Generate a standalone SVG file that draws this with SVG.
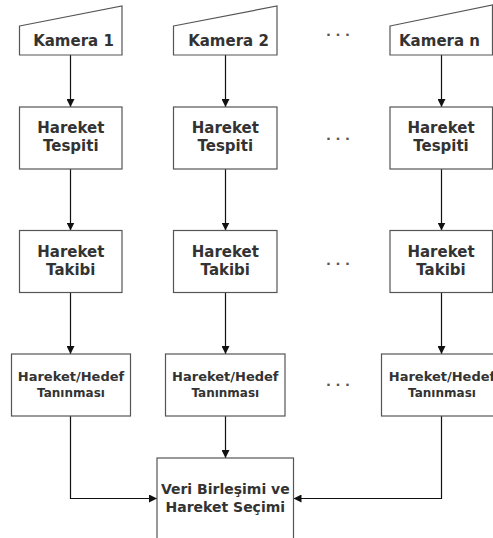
<svg xmlns="http://www.w3.org/2000/svg" width="493" height="538" viewBox="0 0 493 538">
<defs>
<marker id="ah" markerWidth="8" markerHeight="8" refX="8" refY="4" orient="auto" markerUnits="userSpaceOnUse">
<path d="M0,0 L8,4 L0,8 z" fill="#111"/>
</marker>
<style>
.box{fill:#fff;stroke:#555;stroke-width:1.2}
.t{font-family:"DejaVu Sans",Verdana,sans-serif;font-weight:bold;fill:#333;text-anchor:middle}
.big{font-size:15px}
.mid{font-size:13px}
.sm{font-size:12px}
.fin{font-size:14px}
.dots{font-family:"DejaVu Sans",sans-serif;font-weight:bold;font-size:13px;fill:#555;text-anchor:middle}
.c{fill:none;stroke:#111;stroke-width:1.2;marker-end:url(#ah)}
</style>
</defs>
<rect width="493" height="538" fill="#fff"/>

<g id="connectors">
<line class="c" x1="70.5" y1="55" x2="70.5" y2="107"/>
<line class="c" x1="70.5" y1="169" x2="70.5" y2="230.5"/>
<line class="c" x1="70.5" y1="292.5" x2="70.5" y2="354"/>
<polyline class="c" points="70.5,416 70.5,498.5 157,498.5"/>
<line class="c" x1="225.5" y1="55" x2="225.5" y2="107"/>
<line class="c" x1="225.5" y1="169" x2="225.5" y2="230.5"/>
<line class="c" x1="225.5" y1="292.5" x2="225.5" y2="354"/>
<line class="c" x1="225.5" y1="416" x2="225.5" y2="458"/>
<line class="c" x1="441.5" y1="55" x2="441.5" y2="107"/>
<line class="c" x1="441.5" y1="169" x2="441.5" y2="230.5"/>
<line class="c" x1="441.5" y1="292.5" x2="441.5" y2="354"/>
<polyline class="c" points="441.5,416 441.5,498.5 293.5,498.5"/>
</g>

<g id="kamera1">
<polygon class="box" points="19.5,26 122,6 122,55 19.5,55"/>
<text class="t big" x="73.5" y="46">Kamera 1</text>
</g>
<g id="kamera2">
<polygon class="box" points="173.5,26 277,6 277,55 173.5,55"/>
<text class="t big" x="228.5" y="46">Kamera 2</text>
</g>
<g id="kameran">
<polygon class="box" points="390,26 492.5,5 492.5,55 390,55"/>
<text class="t big" x="439.5" y="46">Kamera n</text>
</g>

<g id="tespiti1">
<rect class="box" x="19.5" y="107" width="102.5" height="62"/>
<text class="t big" x="70.8" y="133">Hareket</text>
<text class="t big" x="70.8" y="151">Tespiti</text>
</g>
<g id="tespiti2">
<rect class="box" x="173.5" y="107" width="103.5" height="62"/>
<text class="t big" x="225.3" y="133">Hareket</text>
<text class="t big" x="225.3" y="151">Tespiti</text>
</g>
<g id="tespitin">
<rect class="box" x="390" y="107" width="102.5" height="62"/>
<text class="t big" x="441" y="133">Hareket</text>
<text class="t big" x="441" y="151">Tespiti</text>
</g>

<g id="takibi1">
<rect class="box" x="19.5" y="230.5" width="102.5" height="62"/>
<text class="t big" x="70.8" y="256.5">Hareket</text>
<text class="t big" x="70.8" y="275">Takibi</text>
</g>
<g id="takibi2">
<rect class="box" x="173.5" y="230.5" width="103.5" height="62"/>
<text class="t big" x="225.3" y="256.5">Hareket</text>
<text class="t big" x="225.3" y="275">Takibi</text>
</g>
<g id="takibin">
<rect class="box" x="390" y="230.5" width="102.5" height="62"/>
<text class="t big" x="441" y="256.5">Hareket</text>
<text class="t big" x="441" y="275">Takibi</text>
</g>

<g id="taninma1">
<rect class="box" x="11.5" y="354" width="119" height="62"/>
<text class="t mid" x="71" y="381">Hareket/Hedef</text>
<text class="t sm" x="71" y="397">Tanınması</text>
</g>
<g id="taninma2">
<rect class="box" x="165.5" y="354" width="119.5" height="62"/>
<text class="t mid" x="225.3" y="381">Hareket/Hedef</text>
<text class="t sm" x="225.3" y="397">Tanınması</text>
</g>
<g id="taninman">
<rect class="box" x="381.5" y="354" width="125" height="62"/>
<text class="t mid" x="442" y="381">Hareket/Hedef</text>
<text class="t sm" x="442" y="397">Tanınması</text>
</g>

<g id="birlesim">
<rect class="box" x="157" y="458" width="136.5" height="90"/>
<text class="t fin" x="225.3" y="494">Veri Birleşimi ve</text>
<text class="t fin" x="225.3" y="512">Hareket Seçimi</text>
</g>

<g id="dots">
<text class="dots" x="338" y="36">. . .</text>
<text class="dots" x="338" y="140">. . .</text>
<text class="dots" x="338" y="265">. . .</text>
<text class="dots" x="338" y="386">. . .</text>
</g>
</svg>
